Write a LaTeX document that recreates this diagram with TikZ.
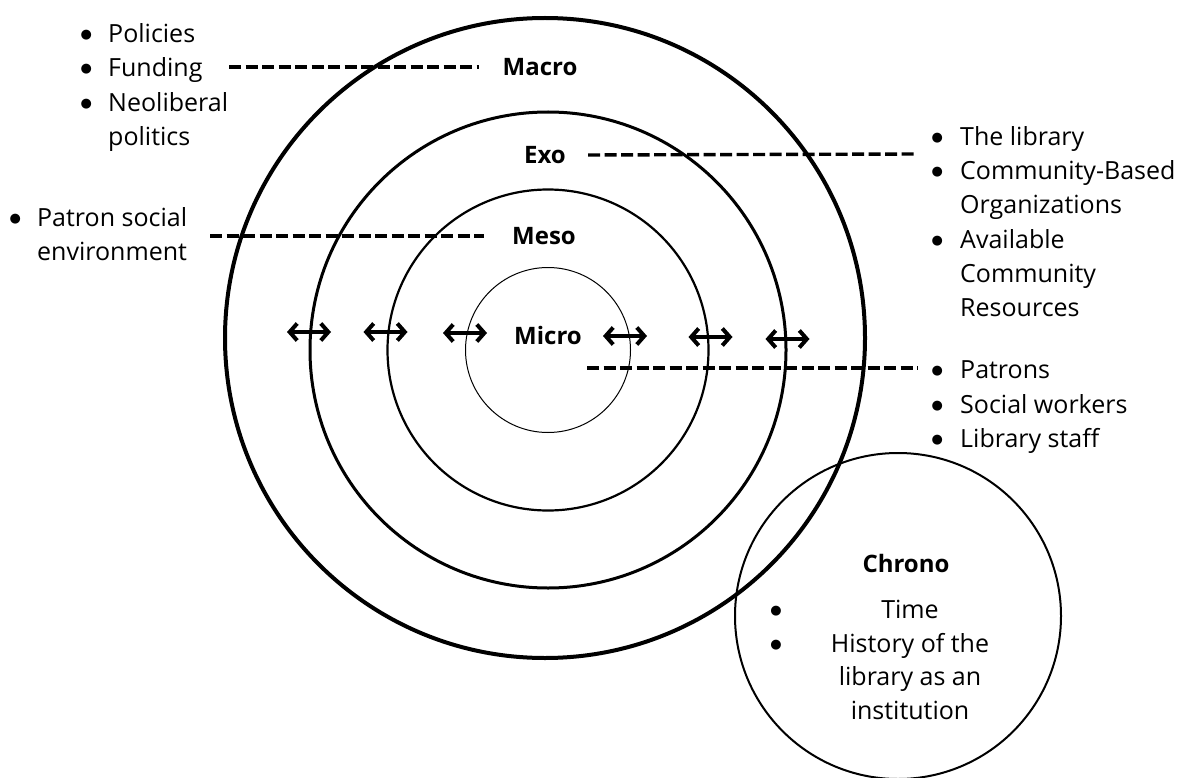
\documentclass[tikz,border=0pt]{standalone}
\usepackage{fontspec}
\setmainfont{Open Sans}
\newfontfamily\dejavu{DejaVu Sans}
\usetikzlibrary{arrows.meta}
\newcommand{\bu}{\makebox[0pt][c]{\raisebox{4pt}{\fontsize{13}{13}\dejavu ●}}}
\begin{document}
\begin{tikzpicture}[x=1pt,y=-1pt,
  ring/.style={draw, circle, inner sep=0pt, outer sep=0pt, minimum size=#1},
  lbl/.style={font=\fontsize{24}{30}\selectfont\bfseries, inner sep=0pt},
  lst/.style={inner sep=0pt, anchor=base west},
  dashline/.style={line width=3.4pt, dash pattern=on 12pt off 4.5pt},
  dbl/.style={line width=4pt, line join=round, line cap=round,
    {Straight Barb[length=7.5pt,width=17pt]}-{Straight Barb[length=7.5pt,width=17pt]}},
]
\useasboundingbox (0,0) rectangle (1183,778);

% rings
\node[ring=640, line width=4pt] (macroC) at (545,338) {};
\node[ring=476, line width=3pt] (exoC) at (548,350) {};
\node[ring=321, line width=2.2pt] (mesoC) at (548,350) {};
\node[ring=165, line width=1pt] (microC) at (548,350) {};
\node[ring=326, line width=2pt] (chronoC) at (898,616) {};

% level labels
\node[lbl] (macro) at (540,67) {Macro};
\node[lbl] (exo) at (545,155) {Exo};
\node[lbl] (meso) at (544,236) {Meso};
\node[lbl] (micro) at (548,335) {Micro};
\node[lbl] (chrono) at (906,563) {Chrono};

% lists
\node[lst] (macroList) at (86,42.5) {\fontsize{25}{34.5}\selectfont
  \begin{tabular}[t]{@{}l@{\hspace{22pt}}l@{}}
  \bu & Policies\\ \bu & Funding\\ \bu & Neoliberal\\ & politics
  \end{tabular}};
\node[lst] (mesoList) at (15,226.5) {\fontsize{25}{34}\selectfont
  \begin{tabular}[t]{@{}l@{\hspace{22pt}}l@{}}
  \bu & Patron social\\ & environment
  \end{tabular}};
\node[lst] (exoList) at (937,145.5) {\fontsize{25}{34.2}\selectfont
  \begin{tabular}[t]{@{}l@{\hspace{23pt}}l@{}}
  \bu & The library\\ \bu & Community-Based\\ & Organizations\\
  \bu & Available\\ & Community\\ & Resources
  \end{tabular}};
\node[lst] (microList) at (937,378.5) {\fontsize{25}{34.5}\selectfont
  \begin{tabular}[t]{@{}l@{\hspace{23pt}}l@{}}
  \bu & Patrons\\ \bu & Social workers\\ \bu & Library staff
  \end{tabular}};
\node[inner sep=0pt, anchor=base] (chronoBul) at (776,618.5) {\fontsize{25}{33.7}\selectfont
  \begin{tabular}[t]{@{}c@{}} \bu\\ \bu \end{tabular}};
\node[inner sep=0pt, anchor=base] (chronoList) at (910,618.5) {\fontsize{25}{33.7}\selectfont
  \begin{tabular}[t]{@{}c@{}} Time\\ History of the\\ library as an\\ institution \end{tabular}};

% dashed leaders
\coordinate (macroTail) at (229,67);
\coordinate (mesoTail) at (210,236);
\coordinate (exoTail) at (918,154);
\coordinate (microHead) at (587,368);
\coordinate (microTail) at (918,368);
\draw[dashline] (macroTail) -- ([xshift=-23pt]macro.west);
\draw[dashline] (mesoTail) -- ([xshift=-28pt]meso.west);
\draw[dashline] ([xshift=22pt]exo.east) -- (exoTail);
\draw[dashline] (microHead) -- (microTail);

% two-way arrows
\foreach \x/\y in {309/332, 385.5/332, 465/333, 625/336, 710.5/337, 787.5/339}
  \draw[dbl] (\x-22,\y) -- (\x+22,\y);
\end{tikzpicture}
\end{document}
